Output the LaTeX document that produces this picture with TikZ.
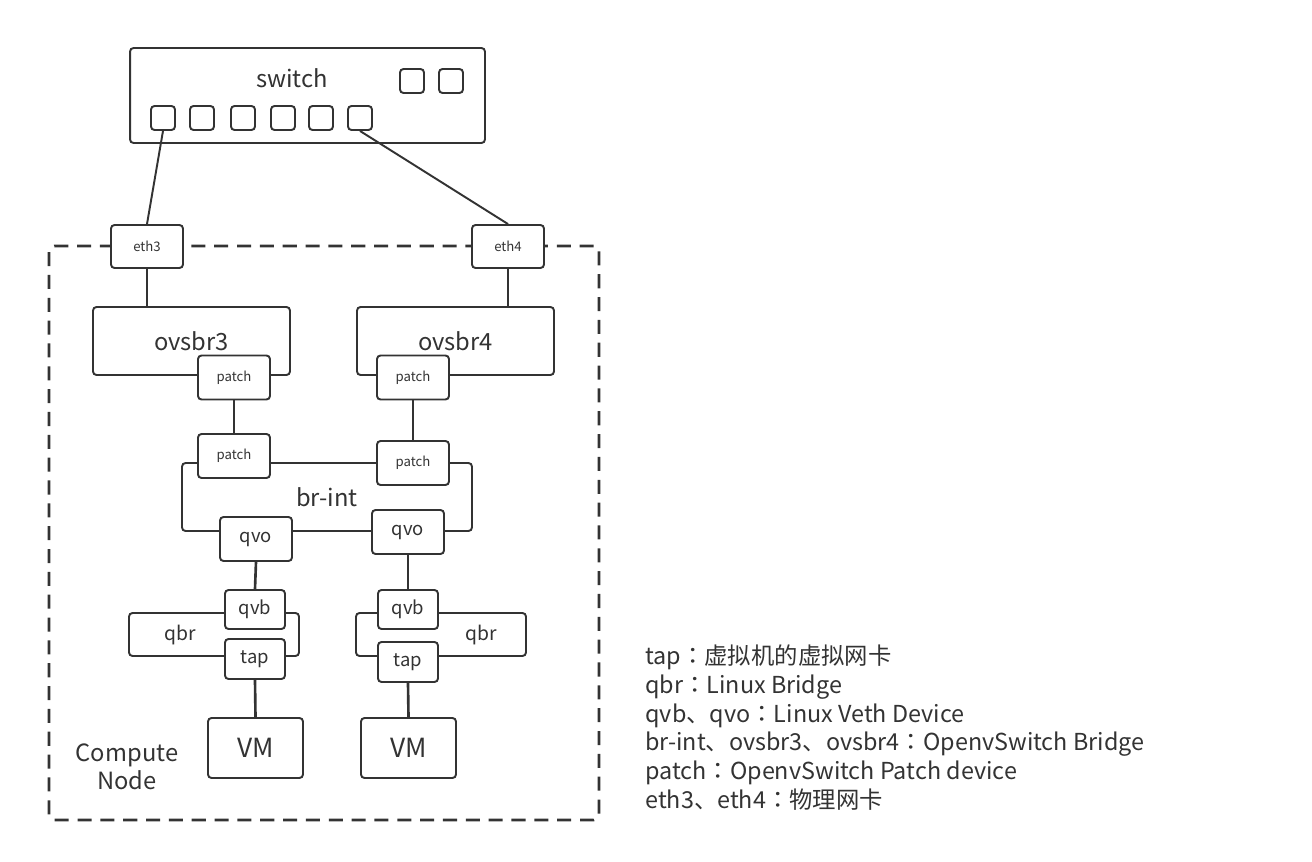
\documentclass[tikz,border=0pt]{standalone}
\usepackage{fontspec}
\setmainfont{Noto Sans CJK SC}
\newfontfamily\cjkpunct{Noto Sans CJK TC}
\usetikzlibrary{positioning, calc}
\definecolor{linegray}{RGB}{51, 51, 51}
\newcommand{\fcolon}{{\cjkpunct ：}}

\begin{document}
\begin{tikzpicture}[x=0.02cm, y=-0.02cm,
  devbox/.style={draw=linegray, fill=white, line width=1.1pt, rounded corners=2pt, text=linegray, inner sep=0pt},
  portbox/.style={devbox, minimum width=0.48cm, minimum height=0.48cm},
  patchbox/.style={devbox, minimum width=1.44cm, minimum height=0.88cm, font=\fontsize{7.5}{9}\selectfont},
  vethbox/.style={devbox, minimum width=1.2cm, minimum height=0.78cm, font=\fontsize{10.5}{12}\selectfont},
  bridgebox/.style={devbox, minimum width=3.94cm, minimum height=1.36cm, font=\fontsize{13.5}{16}\selectfont},
  wire/.style={draw=linegray, line width=1.1pt},
  link/.style={draw=linegray, line width=1.5pt}]
  \useasboundingbox (0,0) rectangle (1312,862);

  % Switch
  \node[devbox, minimum width=7.1cm, minimum height=1.9cm] (switch) at (307.5,95.5) {};
  \node[font=\fontsize{13.5}{16}\selectfont, text=linegray] (switchlabel) at (292,78) {switch};
  \foreach \x [count=\i] in {163,202,243,283,321,360}
    \node[portbox] (p\i) at (\x,118) {};
  \foreach \x [count=\i] in {412,451}
    \node[portbox] (u\i) at (\x,81) {};

  % Compute node
  \node[draw=linegray, line width=1.6pt, dash pattern=on 8pt off 5pt, rounded corners=3pt,
        minimum width=11cm, minimum height=11.48cm] (compute) at (324,533) {};
  \node[font=\fontsize{13.5}{16}\selectfont, align=center, text=linegray] (computelabel) at (127,767) {Compute\\Node};

  % Physical NICs
  \node[patchbox, minimum height=0.86cm] (eth3) at (147,246.5) {eth3};
  \node[patchbox, minimum height=0.86cm] (eth4) at (508,246.5) {eth4};
  \draw[wire] (p1.south) -- (eth3.north);
  \draw[wire] (p6.south) -- (eth4.north);

  % OVS bridges
  \node[bridgebox] (ovsbr3) at (191.5,341) {ovsbr3};
  \node[bridgebox] (ovsbr4) at (455.5,341) {ovsbr4};
  \node[patchbox] (patch3) at (234,377.5) {patch};
  \node[patchbox] (patch4) at (413,377.5) {patch};
  \draw[link] (eth3.south) -- (eth3.south |- ovsbr3.north);
  \draw[link] (eth4.south) -- (eth4.south |- ovsbr4.north);

  % Integration bridge
  \node[bridgebox, minimum width=5.8cm] (brint) at (327,497) {br-int};
  \node[patchbox] (patchl) at (234,456) {patch};
  \node[patchbox] (patchr) at (413,463) {patch};
  \node[vethbox, minimum width=1.44cm, minimum height=0.88cm] (qvol) at (256,539) {qvo};
  \node[vethbox, minimum width=1.44cm, minimum height=0.88cm] (qvor) at (408,532) {qvo};
  \draw[link] (patch3.south) -- (patchl.north);
  \draw[link] (patch4.south) -- (patchr.north);

  % Linux bridges
  \node[devbox, minimum width=3.4cm, minimum height=0.86cm] (qbrl) at (214,634.5) {};
  \node[devbox, minimum width=3.4cm, minimum height=0.86cm] (qbrr) at (441,634.5) {};
  \node[font=\fontsize{11}{13}\selectfont, text=linegray] (qbrllabel) at (180,635) {qbr};
  \node[font=\fontsize{11}{13}\selectfont, text=linegray] (qbrrlabel) at (481,635) {qbr};
  \node[vethbox] (qvbl) at (255,609.5) {qvb};
  \node[vethbox] (qvbr) at (408,609.5) {qvb};
  \node[vethbox, minimum height=0.8cm] (tapl) at (255,659) {tap};
  \node[vethbox, minimum height=0.8cm] (tapr) at (408,662) {tap};
  \draw[link] (qvol.south) -- (qvbl.north);
  \draw[link] (qvor.south) -- (qvbr.north);

  % VMs
  \node[devbox, minimum width=1.9cm, minimum height=1.2cm, font=\fontsize{15}{18}\selectfont] (vml) at (255.5,748) {VM};
  \node[devbox, minimum width=1.9cm, minimum height=1.2cm, font=\fontsize{15}{18}\selectfont] (vmr) at (408.5,748) {VM};
  \draw[link] (tapl.south) -- (vml.north);
  \draw[link] (tapr.south) -- (vmr.north);

  % Legend
  \node[anchor=west, align=left, inner sep=0pt, text=linegray, font=\fontsize{13.3}{16.4}\selectfont] (legend) at (645,727.5) {
    tap\fcolon 虚拟机的虚拟网卡\\
    qbr\fcolon Linux Bridge\\
    qvb、qvo\fcolon Linux Veth Device\\
    br-int、ovsbr3、ovsbr4\fcolon OpenvSwitch Bridge\\
    patch\fcolon OpenvSwitch Patch device\\
    eth3、eth4\fcolon 物理网卡
  };
\end{tikzpicture}
\end{document}
